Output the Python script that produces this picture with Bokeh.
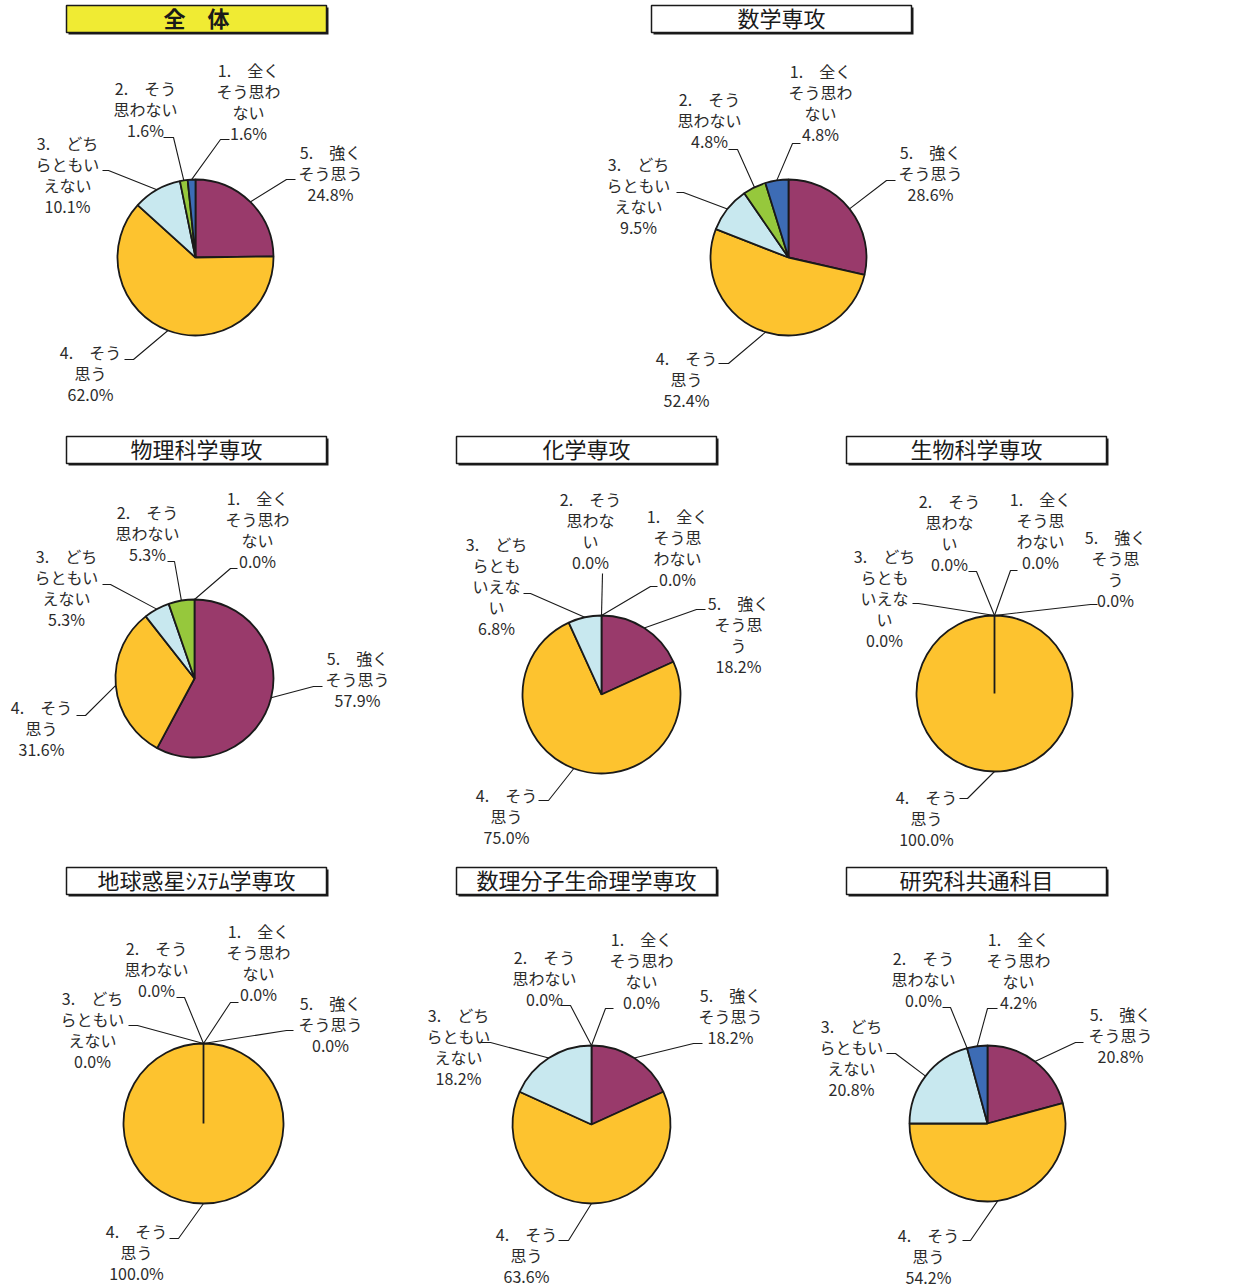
import math
from bokeh.plotting import figure
from bokeh.models import Range1d, ColumnDataSource
from bokeh.embed import file_html
from bokeh.resources import INLINE
from bokeh.core.properties import value

# ---------------- data ----------------
categories = ["1.　全くそう思わない", "2.　そう思わない", "3.　どちらともいえない",
              "4.　そう思う", "5.　強くそう思う"]
cat_colors = ["#3D6CB5", "#96C83C", "#C8E8EF", "#FDC32F", "#993A6B"]

groups = ["全　体", "数学専攻", "物理科学専攻", "化学専攻", "生物科学専攻",
          "地球惑星ｼｽﾃﾑ学専攻", "数理分子生命理学専攻", "研究科共通科目"]

v_zentai = [1.6, 1.6, 10.1, 62.0, 24.8]
v_sugaku = [4.8, 4.8, 9.5, 52.4, 28.6]
v_butsuri = [0.0, 5.3, 5.3, 31.6, 57.9]
v_kagaku = [0.0, 0.0, 6.8, 75.0, 18.2]
v_seibutsu = [0.0, 0.0, 0.0, 100.0, 0.0]
v_chikyu = [0.0, 0.0, 0.0, 100.0, 0.0]
v_suri = [0.0, 0.0, 18.2, 63.6, 18.2]
v_kyotsu = [4.2, 0.0, 20.8, 54.2, 20.8]
values = [v_zentai, v_sugaku, v_butsuri, v_kagaku, v_seibutsu, v_chikyu, v_suri, v_kyotsu]

# ---------------- layout (page pixel coordinates) ----------------
wrap = [4, 4, 4, 3, 3, 4, 4, 4]
centers = [(195, 257), (788, 257), (194, 678), (601, 694), (994, 693),
           (203, 1123), (591, 1124), (987, 1123)]
radii = [78, 78, 79, 79, 78, 80, 79, 78]
boxes = [(66, 326, 5, 32), (651, 911, 5, 32), (66, 326, 436, 463), (456, 716, 436, 463),
         (846, 1106, 436, 463), (66, 326, 867, 894), (456, 716, 867, 894), (846, 1106, 867, 894)]
# per label: (text center x, first line y, elbow x, elbow y, end x)
labels = [
    [(248, 71, 220, 139, 229), (145, 89, 173, 137, 163), (67, 144, 108, 170, 102),
     (90, 353, 133, 359, 124), (330, 153, 286, 179, 295)],
    [(820, 72, 792, 143, 800), (709, 100, 737, 149, 728), (638, 165, 683, 192, 676),
     (686, 359, 728, 363, 718), (930, 153, 886, 180, 895)],
    [(257, 499, 230, 568, 237), (147, 513, 174, 561, 167), (66, 557, 110, 584, 102),
     (41, 708, 85, 715, 76), (357, 659, 313, 686, 322)],
    [(677, 517, 650, 586, 657), (590, 500, 602, 573, 602), (496, 545, 530, 593, 523),
     (506, 796, 548, 800, 538), (738, 604, 696, 609, 705)],
    [(1040, 500, 1010, 570, 1017), (949, 502, 976, 571, 968), (884, 557, 918, 603, 912),
     (926, 798, 967, 798, 959), (1115, 538, 1090, 604, 1097)],
    [(258, 932, 230, 1002, 238), (156, 949, 184, 997, 176), (92, 999, 137, 1025, 128),
     (136, 1232, 178, 1238, 169), (330, 1004, 286, 1030, 293)],
    [(641, 940, 605, 1008, 613), (544, 958, 570, 1005, 560), (458, 1016, 490, 1042, 480),
     (526, 1235, 568, 1240, 558), (730, 996, 693, 1043, 702)],
    [(1018, 940, 987, 1008, 997), (923, 959, 950, 1007, 942), (851, 1027, 895, 1053, 886),
     (928, 1236, 970, 1240, 962), (1120, 1015, 1075, 1042, 1083)],
]
LINE_H = 21.2
TEXT_DY = -2

W, H = 1242, 1288


def Y(iy):
    return H - iy


p = figure(width=W, height=H, x_range=Range1d(0, W), y_range=Range1d(0, H),
           output_backend="svg", toolbar_location=None, min_border=0,
           x_axis_location=None, y_axis_location=None)
p.grid.visible = False
p.outline_line_color = None
p.background_fill_color = "white"
p.border_fill_color = "white"

FONT = value("Noto Sans CJK JP")

# title boxes
sh = dict(left=[], right=[], top=[], bottom=[])
bx = dict(left=[], right=[], top=[], bottom=[], fill=[])
for gi, (x0, x1, y0, y1) in enumerate(boxes):
    sh["left"].append(x0 + 2); sh["right"].append(x1 + 2)
    sh["top"].append(Y(y0 + 2)); sh["bottom"].append(Y(y1 + 2))
    bx["left"].append(x0); bx["right"].append(x1)
    bx["top"].append(Y(y0)); bx["bottom"].append(Y(y1))
    bx["fill"].append("#F0EB33" if gi == 0 else "white")
p.quad(source=ColumnDataSource(sh), left="left", right="right", top="top", bottom="bottom",
       fill_color="#1a1a1a", line_color=None)
p.quad(source=ColumnDataSource(bx), left="left", right="right", top="top", bottom="bottom",
       fill_color="fill", line_color="#1a1a1a", line_width=1.5)
for gi, (x0, x1, y0, y1) in enumerate(boxes):
    p.text(x=[(x0 + x1) / 2], y=[Y((y0 + y1) / 2 - 2)], text=[groups[gi]],
           text_font=FONT, text_font_size="22px", text_align="center",
           text_baseline="middle", text_color="#1a1a1a",
           text_font_style="bold" if gi == 0 else "normal")

# pies
wd = dict(x=[], y=[], r=[], s=[], e=[], c=[])
lx, ly = [], []
txt = dict(x=[], y=[], text=[])
for gi, vals in enumerate(values):
    cx, cy = centers[gi]
    r = radii[gi]
    total = sum(vals)
    # clockwise from 12 o'clock: categories 5,4,3,2,1
    theta = 0.0
    mids = {}
    for ci in [4, 3, 2, 1, 0]:
        span = vals[ci] / total * 360.0
        t1, t2 = theta, theta + span
        mids[ci] = (t1 + t2) / 2
        if span > 0:
            a_start = math.radians(90 - t2)
            a_end = math.radians(90 - t1)
            if span >= 359.999:
                a_end = a_start + 2 * math.pi - 1e-4
            wd["x"].append(cx); wd["y"].append(Y(cy)); wd["r"].append(r)
            wd["s"].append(a_start); wd["e"].append(a_end); wd["c"].append(cat_colors[ci])
        theta = t2
    for ci in range(5):
        tx, ty, ex, ey, hx = labels[gi][ci]
        m = math.radians(mids[ci])
        sx = cx + r * math.sin(m)
        sy = cy - r * math.cos(m)
        lx.append([sx, ex, hx]); ly.append([Y(sy), Y(ey), Y(ey)])
        s = categories[ci]
        head, tail = s[:5], s[5:]
        w = wrap[gi]
        lines = [head] + [tail[k:k + w] for k in range(0, len(tail), w)] + [f"{vals[ci]:.1f}%"]
        for li, line in enumerate(lines):
            txt["x"].append(tx); txt["y"].append(Y(ty + TEXT_DY + li * LINE_H))
            txt["text"].append(line)

p.wedge(source=ColumnDataSource(wd), x="x", y="y", radius="r", start_angle="s", end_angle="e",
        fill_color="c", line_color="#1a1a1a", line_width=1.8)
p.multi_line(xs=lx, ys=ly, line_color="#1a1a1a", line_width=1.1)
p.text(source=ColumnDataSource(txt), x="x", y="y", text="text", text_font=FONT,
       text_font_size="16px", text_align="center", text_baseline="middle",
       text_color="#2b2b2b")

open("out.html", "w").write(file_html(p, INLINE))
